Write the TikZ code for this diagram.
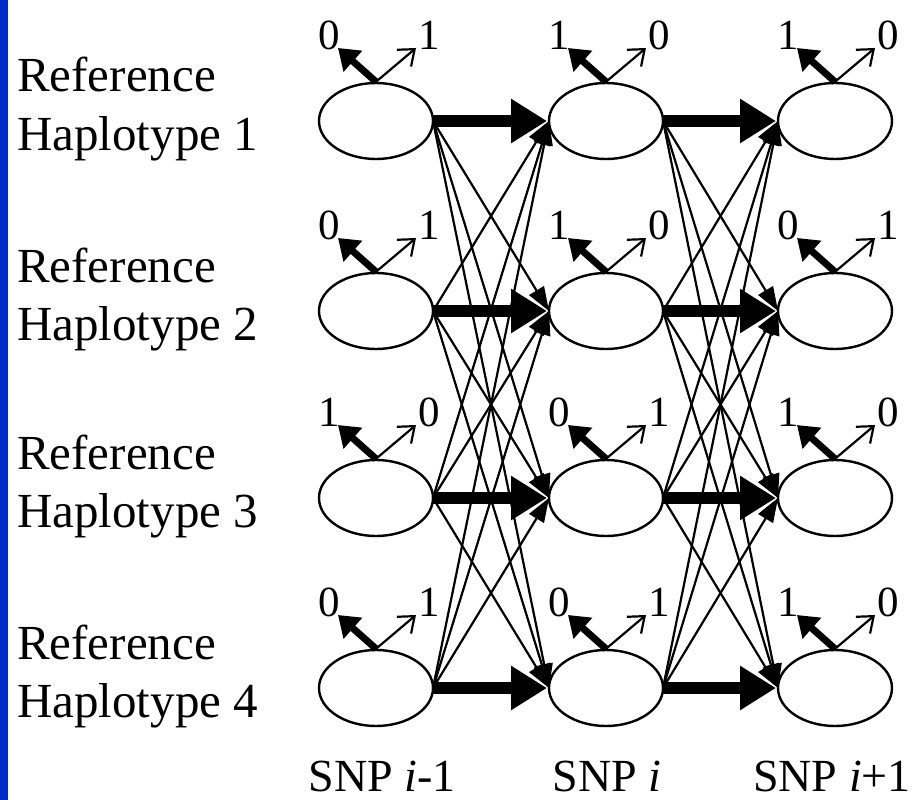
\documentclass[tikz,border=0pt]{standalone}
\usepackage{fontspec}
\setmainfont{Liberation Serif}
\usetikzlibrary{arrows.meta,shapes.geometric}

\definecolor{barblue}{RGB}{0,45,200}

\tikzset{
  state/.style={draw, ellipse, line width=2.4pt, fill=white,
    minimum width=114pt, minimum height=76pt, inner sep=0pt},
  rowlabel/.style={anchor=base west, inner sep=0pt,
    font=\fontsize{49}{58}\selectfont},
  snplabel/.style={anchor=base, inner sep=0pt,
    font=\fontsize{46}{54}\selectfont},
  bitlabel/.style={inner sep=0pt, font=\fontsize{43}{50}\selectfont},
  stay/.style={line width=12pt, -{Triangle[length=36pt,width=42pt]}},
  jump/.style={line width=2.2pt, -{Triangle[length=24pt,width=17pt]}},
  likely/.style={line width=7pt, -{Triangle[length=20pt,width=27pt]}},
  unlikely/.style={line width=2.2pt, -{Straight Barb[length=14pt,width=22pt,line width=2.2pt]}}
}

\begin{document}
\begin{tikzpicture}[x=1pt,y=-1pt]
  \useasboundingbox (0,0) rectangle (916,800);
  \fill[barblue] (0,0) rectangle (8,800);

  % hidden states: one ellipse per reference haplotype and SNP
  \foreach \c/\x in {1/376,2/606,3/835}
    \foreach \r/\y in {1/121,2/311,3/498,4/688}
      \coordinate (p-\c-\r) at (\x,\y);

  % transitions between neighbouring SNPs
  \foreach \c/\d in {1/2,2/3} {
    \foreach \r in {1,2,3,4} {
      \foreach \s in {1,2,3,4} {
        \ifnum\r=\s\relax\else
          \draw[jump] ([xshift=57pt]p-\c-\r) -- ([xshift=-57pt]p-\d-\s);
        \fi
      }
    }
  }
  \foreach \c/\d in {1/2,2/3} {
    \foreach \r in {1,2,3,4} {
      \draw[stay] ([xshift=57pt]p-\c-\r) -- ([xshift=-59pt]p-\d-\r);
    }
  }

  \foreach \c in {1,2,3} {
    \foreach \r in {1,2,3,4} {
      \node[state] (s-\c-\r) at (p-\c-\r) {};
    }
  }

  % emission arrows with their alleles
  \foreach \c/\r/\a/\b in {1/1/0/1, 2/1/1/0, 3/1/1/0,
                           1/2/0/1, 2/2/1/0, 3/2/0/1,
                           1/3/1/0, 2/3/0/1, 3/3/1/0,
                           1/4/0/1, 2/4/0/1, 3/4/1/0} {
    \coordinate (hi-\c-\r) at ([shift={(-38,-73)}]p-\c-\r);
    \coordinate (lo-\c-\r) at ([shift={(40,-73)}]p-\c-\r);
    \draw[likely] (s-\c-\r.north) -- (hi-\c-\r);
    \draw[unlikely] (s-\c-\r.north) -- (lo-\c-\r);
    \node[bitlabel] (hb-\c-\r) at ([shift={(-47,-86)}]p-\c-\r) {\a};
    \node[bitlabel] (lb-\c-\r) at ([shift={(53,-86)}]p-\c-\r) {\b};
  }

  % reference haplotype names
  \foreach \r/\y in {1/121,2/311,3/498,4/688} {
    \node[rowlabel] (ref-\r) at (17,\y-29) {Reference};
    \node[rowlabel] (hap-\r) at (17,\y+29) {Haplotype \r};
  }

  % SNP positions
  \node[snplabel] (snp-1) at (382,791) {SNP \textit{i}-1};
  \node[snplabel] (snp-2) at (607,791) {SNP \textit{i}};
  \node[snplabel] (snp-3) at (832,791) {SNP \textit{i}+1};
\end{tikzpicture}
\end{document}
